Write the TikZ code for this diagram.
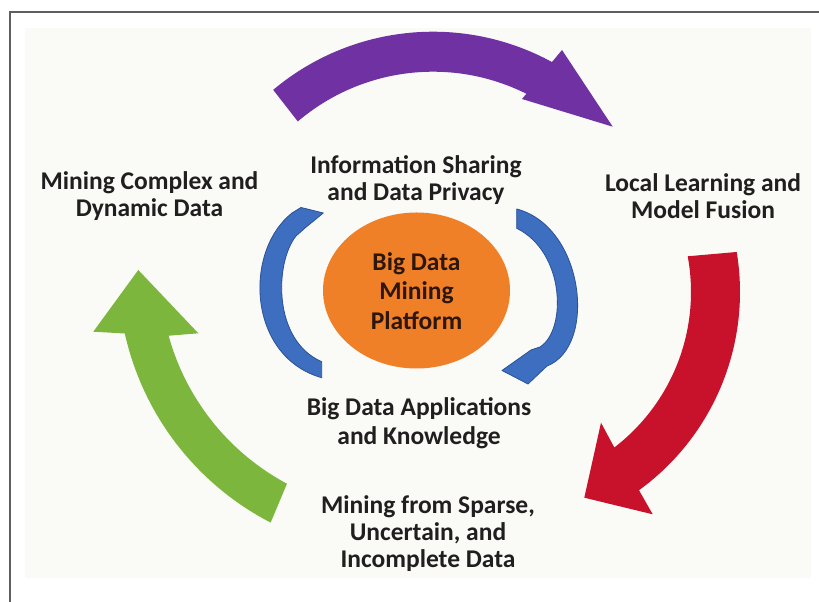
\documentclass[tikz,border=0pt]{standalone}
\usepackage{fontspec}
\setmainfont{Carlito}
\usetikzlibrary{calc,shapes.geometric}
\definecolor{purp}{RGB}{112,50,162}
\definecolor{redc}{RGB}{200,18,44}
\definecolor{greenc}{RGB}{124,182,60}
\definecolor{bluec}{RGB}{62,110,192}
\definecolor{blueedge}{RGB}{42,82,150}
\definecolor{orangec}{RGB}{240,128,40}
\definecolor{txt}{RGB}{32,30,30}
\definecolor{hubtxt}{RGB}{45,22,12}
\definecolor{panel}{RGB}{250,250,246}
\definecolor{bordergray}{RGB}{95,95,95}
\begin{document}
\begin{tikzpicture}[x=1pt,y=1pt,
  lbl/.style={font=\fontsize{25.5}{27}\selectfont\bfseries, text=txt, align=center, anchor=base, inner sep=0pt},
  hublbl/.style={font=\fontsize{25.5}{29.5}\selectfont\bfseries, text=hubtxt, align=center, anchor=base, inner sep=0pt},
  smallarrow/.style={fill=bluec, draw=blueedge, line width=0.8pt, line join=round}]
\useasboundingbox (0,0) rectangle (819,602);
\fill[white] (0,0) rectangle (819,602);
\fill[panel] (25,24) rectangle (811,574);
\draw[bordergray, line width=2.5pt] (10,-2) -- (10,590) -- (821,590);

% centres of the big curved arrows
\coordinate (Cp) at (433,321.7);
\coordinate (Cr) at (495,310);
\coordinate (Cg) at (400,330);

% purple arrow (top)
\fill[purp] ($(Cp)+(130:248.6)$) arc[start angle=130, end angle=61.4, radius=248.6]
  -- (562,552) -- (612.7,475.3) -- (522,503)
  -- ($(Cp)+(63.4:208.6)$) arc[start angle=63.4, end angle=130.4, radius=208.6] -- cycle;

% red arrow (right)
\fill[redc] ($(Cr)+(9.4:245)$) arc[start angle=9.4, end angle=-54, radius=245]
  -- (652.7,87.7) -- (584.3,104.3) -- (601,179.3)
  -- ($(Cr)+(-52.5:196)$) arc[start angle=-52.5, end angle=10.5, radius=196] -- cycle;

% green arrow (left)
\fill[greenc] ($(Cg)+(242.7:282)$) arc[start angle=242.7, end angle=192.6, radius=282]
  -- (93.3,270.3) -- (138.3,332) -- (198.3,268.7)
  -- ($(Cg)+(195.4:240)$) arc[start angle=195.4, end angle=241.9, radius=240] -- cycle;

% blue arrows
\filldraw[smallarrow] (321.7,224.3) .. controls (248,245) and (243,350) .. (292,389)
  -- (301,394.5) -- (323.3,389) -- (305,374) -- (296,366)
  .. controls (275,340) and (272,262) .. (321.7,240.3) -- cycle;

\filldraw[smallarrow] (516.7,393) .. controls (585,375) and (597,255) .. (547,236)
  -- (528,218) -- (502,231.5) -- (531,252) -- (540,255)
  .. controls (567,272) and (565,350) .. (516.7,373.7) -- cycle;

% central platform
\node[ellipse, fill=orangec, minimum width=187pt, minimum height=156pt, inner sep=0pt] (hub) at (416.5,311.5) {};
\node[hublbl] (hubtext) at (416.5,272.7) {Big Data\\Mining\\Platform};

% labels (anchored at the baseline of the last line)
\node[lbl] (t1) at (149.5,385.3) {Mining Complex and\\Dynamic Data};
\node[lbl] (t2) at (416,401) {Information Sharing\\and Data Privacy};
\node[lbl] (t3) at (703,383.7) {Local Learning and\\Model Fusion};
\node[lbl, font=\fontsize{25.5}{29}\selectfont\bfseries] (t5) at (419,157) {Big Data Applications\\and Knowledge};
\node[lbl] (t6) at (428,34.3) {Mining from Sparse,\\Uncertain, and\\Incomplete Data};
\end{tikzpicture}
\end{document}
